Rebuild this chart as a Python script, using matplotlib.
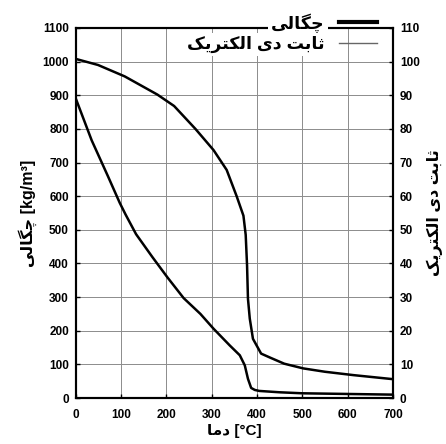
import matplotlib
matplotlib.use("Agg")
import matplotlib.pyplot as plt
from matplotlib.lines import Line2D
from matplotlib.font_manager import FontProperties

# Persian labels, pre-shaped (presentation forms, visual order) since
# matplotlib has no complex text layout
lbl_density = "\uFBFD\uFEDF\uFE8E\uFB95\uFB7C"                  # چگالی
lbl_dielec = ("\uFB8F\uFBFE\uFEAE\uFE98\uFB91\uFEDF\uFE8D \uFBFC\uFEA9 "
              "\uFE96\uFE91\uFE8E\uFE9B")                      # ثابت دی الکتریک
lbl_temp = "\uFE8E\uFEE3\uFEA9"                                 # دما

# density vs temperature [kg/m3]
temp_d = [0, 35, 71, 97, 110, 133, 169, 202, 238, 275, 304, 340, 362, 373,
          380, 387, 395, 405, 450, 500, 600, 700]
density = [890, 766, 659, 580, 545, 487, 419, 359, 297, 250, 206, 156, 127,
           97, 57, 30, 24, 21, 17, 14, 12, 10]

# dielectric constant vs temperature
temp_e = [0, 49, 108, 180, 217, 264, 304, 333, 355, 370, 375, 378, 380, 384,
          391, 409, 429, 460, 502, 550, 613, 700]
dielec = [100.8, 99.0, 95.6, 90.2, 86.8, 80.0, 73.7, 67.8, 60.0, 54.2, 48.5,
          39.4, 29.5, 23.6, 17.6, 13.2, 12.0, 10.2, 8.8, 7.8, 6.8, 5.6]

xticks = list(range(0, 701, 100))
yticks_left = list(range(0, 1101, 100))
yticks_right = list(range(0, 111, 10))

fam = ['Liberation Sans', 'DejaVu Sans']

fig = plt.figure(figsize=(4.46, 4.44), dpi=100)
ax = fig.add_axes([0.170, 0.1036, 0.711, 0.8334])
ax2 = ax.twinx()

ax.plot(temp_d, density, color='black', lw=1.8, zorder=3)
ax2.plot(temp_e, dielec, color='black', lw=1.8, zorder=3)

ax.set_xlim(0, 700)
ax.set_ylim(0, 1100)
ax2.set_ylim(0, 110)
ax.set_xticks(xticks)
ax.set_yticks(yticks_left)
ax2.set_yticks(yticks_right)

ax.grid(True, color='0.55', lw=0.7)
ax.set_axisbelow(True)

for a in (ax, ax2):
    a.tick_params(direction='in', length=3, width=1, labelsize=8.5, pad=5)
    for lab in a.get_xticklabels() + a.get_yticklabels():
        lab.set_fontweight('bold')
        lab.set_family(fam)
    for s in a.spines.values():
        s.set_linewidth(1.5)
ax.tick_params(axis='x', pad=8)

ax.set_xlabel(lbl_temp + " [°C]", family=fam, fontweight='bold',
              fontsize=11, labelpad=2)
ax.set_ylabel(lbl_density + " [kg/m³]", family=fam, fontweight='bold',
              fontsize=11.5, labelpad=4)
ax2.set_ylabel(lbl_dielec, family=fam, fontweight='bold', fontsize=11.5,
               labelpad=5)

# legend: no frame, white box only behind each label (breaks the lines)
handles = [Line2D([], [], color='black', lw=3),
           Line2D([], [], color='0.4', lw=1)]
leg = ax2.legend(handles, [lbl_density, lbl_dielec], loc='upper right',
                 bbox_to_anchor=(0.955, 1.045), markerfirst=False,
                 prop=FontProperties(family=fam, weight='bold', size=12.5),
                 frameon=False, borderpad=0.1,
                 labelspacing=0.2, handlelength=2.2, handletextpad=0.8,
                 borderaxespad=0)
for t in leg.get_texts():
    t.set_bbox(dict(facecolor='white', edgecolor='none', pad=2))
leg.set_zorder(10)

fig.savefig("out.png", dpi=100)
